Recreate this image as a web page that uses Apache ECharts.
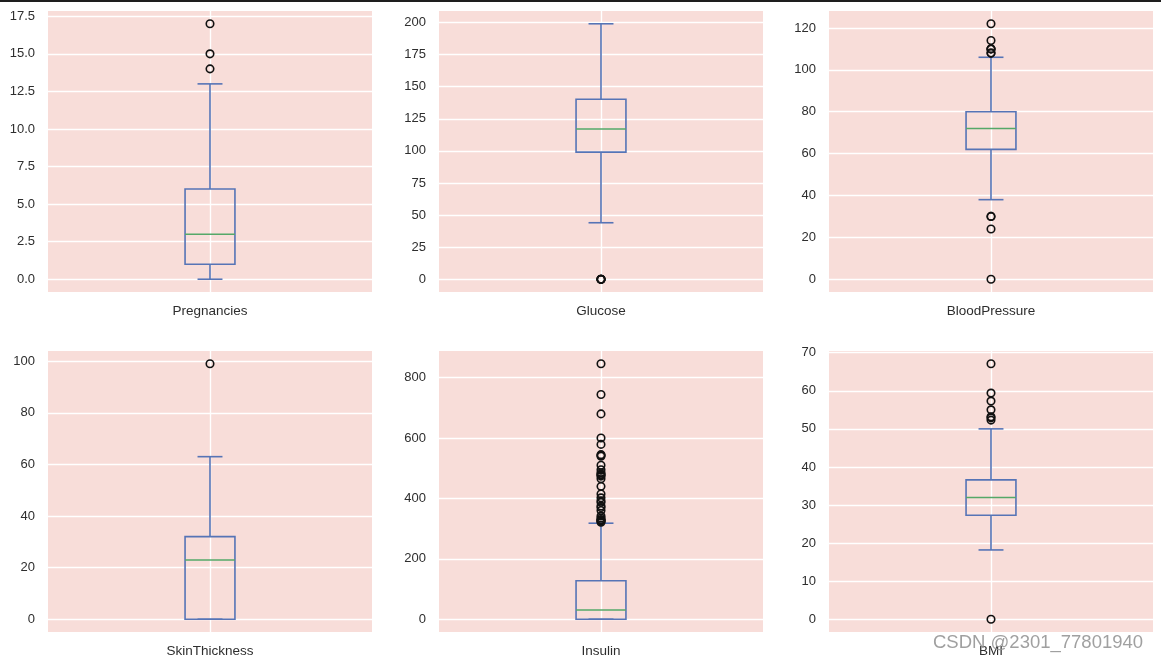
<!DOCTYPE html>
<html><head><meta charset="utf-8">
<script src="https://cdn.jsdelivr.net/npm/echarts@6/dist/echarts.min.js"></script>
<style>html,body{margin:0;padding:0;background:#fff}#c{width:1161px;height:661px}</style>
</head><body><div id="c"></div>
<script>
// ---- data ----
const categories = ['Pregnancies', 'Glucose', 'BloodPressure', 'SkinThickness', 'Insulin', 'BMI'];
const lowerWhisker = [0, 44, 38, 0, 0, 18.2];
const q1 = [1, 99, 62, 0, 0, 27.3];
const medians = [3, 117, 72, 23, 30.5, 32];
const q3 = [6, 140.25, 80, 32, 127.25, 36.6];
const upperWhisker = [13, 199, 106, 63, 318, 50];

const pregnanciesOutliers = [14, 15, 17];
const glucoseOutliers = [0, 0, 0, 0, 0];
const bloodPressureOutliers = [0, 24, 30, 30, 108, 108, 110, 110, 110, 114, 122];
const skinThicknessOutliers = [99];
const insulinOutliers = [321, 325, 326, 328, 330, 335, 342, 360, 370, 375, 387, 392, 402, 415, 440, 465, 474, 478, 480, 485, 495, 510, 540, 543, 545, 579, 600, 680, 744, 846];
const bmiOutliers = [0, 52.3, 52.9, 53.2, 55, 57.3, 59.4, 67.1];
const outliers = [pregnanciesOutliers, glucoseOutliers, bloodPressureOutliers, skinThicknessOutliers, insulinOutliers, bmiOutliers];

const pregnanciesTicks = [0, 2.5, 5, 7.5, 10, 12.5, 15, 17.5];
const glucoseTicks = [0, 25, 50, 75, 100, 125, 150, 175, 200];
const bloodPressureTicks = [0, 20, 40, 60, 80, 100, 120];
const skinThicknessTicks = [0, 20, 40, 60, 80, 100];
const insulinTicks = [0, 200, 400, 600, 800];
const bmiTicks = [0, 10, 20, 30, 40, 50, 60, 70];
const yTicks = [pregnanciesTicks, glucoseTicks, bloodPressureTicks, skinThicknessTicks, insulinTicks, bmiTicks];
const tickDecimals = [1, 0, 0, 0, 0, 0];

// ---- style ----
const BG = '#F8DDD9';
const BOX_COLOR = '#5674B6';
const MED_COLOR = '#55A868';
const TEXT = '#2e2e2e';
const FONT = 'Liberation Sans, Arial, sans-serif';
const BOX_HALF = 0.154;
const CAP_HALF = 0.077;
const lefts = [48, 439, 829];
const tops = [11, 351];
const GW = 324, GH = 281;

const chart = echarts.init(document.getElementById('c'));

function renderBox(params, api) {
  const x = api.value(0);
  const lw = api.value(1), a = api.value(2), m = api.value(3), b = api.value(4), uw = api.value(5);
  const tl = api.coord([x - BOX_HALF, b]);
  const br = api.coord([x + BOX_HALF, a]);
  const cx = api.coord([x, m])[0];
  const capL = api.coord([x - CAP_HALF, 0])[0];
  const capR = api.coord([x + CAP_HALF, 0])[0];
  const yLw = api.coord([x, lw])[1], yUw = api.coord([x, uw])[1], yM = api.coord([x, m])[1];
  const ls = { stroke: BOX_COLOR, lineWidth: 1.6, fill: null };
  return {
    type: 'group',
    children: [
      { type: 'line', shape: { x1: cx, y1: br[1], x2: cx, y2: yLw }, style: ls },
      { type: 'line', shape: { x1: cx, y1: tl[1], x2: cx, y2: yUw }, style: ls },
      { type: 'line', shape: { x1: capL, y1: yLw, x2: capR, y2: yLw }, style: ls },
      { type: 'line', shape: { x1: capL, y1: yUw, x2: capR, y2: yUw }, style: ls },
      { type: 'rect', shape: { x: tl[0], y: tl[1], width: br[0] - tl[0], height: br[1] - tl[1] }, style: ls },
      { type: 'line', shape: { x1: tl[0], y1: yM, x2: br[0], y2: yM }, style: { stroke: MED_COLOR, lineWidth: 1.5 } }
    ]
  };
}

const grid = [], xAxis = [], yAxis = [], series = [];
categories.forEach((cat, i) => {
  const row = Math.floor(i / 3), col = i % 3;
  grid.push({ left: lefts[col], top: tops[row], width: GW, height: GH, show: true, backgroundColor: BG, borderWidth: 0 });
  const all = [lowerWhisker[i], upperWhisker[i]].concat(outliers[i]);
  const dmin = Math.min.apply(null, all), dmax = Math.max.apply(null, all);
  const pad = (dmax - dmin) * 0.05;
  xAxis.push({
    type: 'value', gridIndex: i, min: 0, max: 2,
    axisLine: { show: false },
    axisTick: { show: false, customValues: [1] },
    splitLine: { show: true, lineStyle: { color: '#ffffff', width: 1.4 } },
    axisLabel: { customValues: [1], margin: 12, color: TEXT, fontSize: 13.5, fontFamily: FONT, formatter: () => cat }
  });
  const dec = tickDecimals[i];
  yAxis.push({
    type: 'value', gridIndex: i, min: dmin - pad, max: dmax + pad,
    axisLine: { show: false },
    axisTick: { show: false, customValues: yTicks[i] },
    splitLine: { show: true, lineStyle: { color: '#ffffff', width: 1.4 } },
    axisLabel: { customValues: yTicks[i], margin: 13, color: TEXT, fontSize: 13, fontFamily: FONT, formatter: v => Number(v).toFixed(dec) }
  });
  series.push({
    type: 'custom', xAxisIndex: i, yAxisIndex: i, renderItem: renderBox, z: 3,
    data: [[1, lowerWhisker[i], q1[i], medians[i], q3[i], upperWhisker[i]]]
  });
  series.push({
    type: 'scatter', xAxisIndex: i, yAxisIndex: i, z: 4,
    symbol: 'circle', symbolSize: 7.5,
    itemStyle: { color: 'rgba(0,0,0,0)', borderColor: '#111', borderWidth: 1.6, opacity: 1 },
    data: outliers[i].map(v => [1, v])
  });
});

chart.setOption({
  animation: false,
  backgroundColor: '#ffffff',
  grid, xAxis, yAxis, series,
  graphic: [
    { type: 'rect', left: 0, top: 0, shape: { width: 1161, height: 2 }, style: { fill: '#1e1e1e' }, z: 10 },
    { type: 'text', left: 933, top: 633, z: 10, style: { text: 'CSDN @2301_77801940', font: '18.5px Liberation Sans, Arial, sans-serif', fill: 'rgba(150,150,150,0.9)' } }
  ]
});
</script>
</body></html>
